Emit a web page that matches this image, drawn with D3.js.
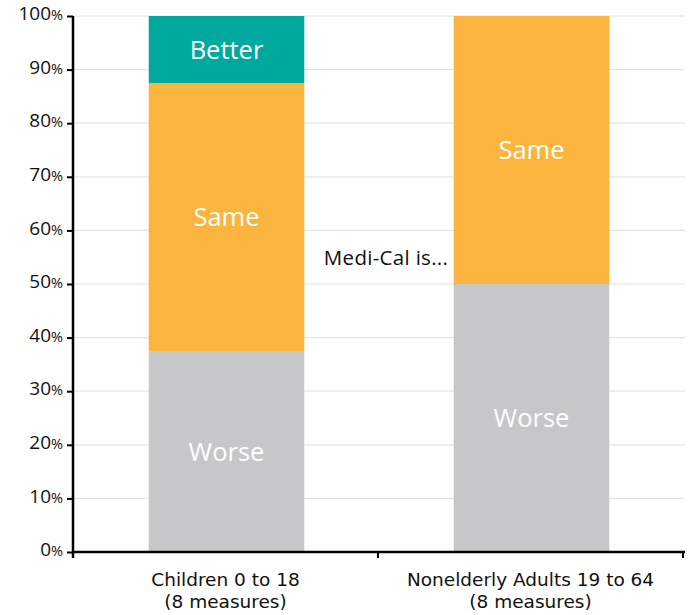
<!DOCTYPE html>
<html>
<head>
<meta charset="utf-8">
<script src="https://cdn.jsdelivr.net/npm/d3@7"></script>
<style>
  body { margin: 0; background: #fff; }
  text { font-family: "Open Sans", Lato, sans-serif; }
  .xlab text { font-family: "DejaVu Sans", "Open Sans", sans-serif; }
</style>
</head>
<body>
<div id="chart"></div>
<script>
var groups = ["Children 0 to 18", "Nonelderly Adults 19 to 64"]
var groupNotes = ["(8 measures)", "(8 measures)"]
var categories = ["Worse", "Same", "Better"]
var worse = [37.5, 50]
var same = [50, 50]
var better = [12.5, 0]
var yTicks = [0, 10, 20, 30, 40, 50, 60, 70, 80, 90, 100]
var colors = {Worse: "#c6c7c9", Same: "#fbb53e", Better: "#00a99d"}

var rows = groups.map(function(g, i) {
  return {group: g, Worse: worse[i], Same: same[i], Better: better[i]}
})

var width = 690, height = 615
var margin = {top: 16, right: 5, bottom: 63, left: 73}

var svg = d3.select("#chart")
  .append("svg")
    .attr("width", width)
    .attr("height", height)

var x = d3.scaleBand()
  .domain(groups)
  .range([margin.left, width - margin.right - 2])
  .paddingInner(0.49)
  .paddingOuter(0.245)

var y = d3.scaleLinear()
  .domain([0, 100])
  .range([height - margin.bottom, margin.top])

// gridlines
svg.append("g")
  .selectAll("line")
  .data(yTicks.slice(1))
  .enter().append("line")
    .attr("x1", margin.left)
    .attr("x2", width - margin.right)
    .attr("y1", function(d) { return y(d) })
    .attr("y2", function(d) { return y(d) })
    .attr("stroke", "#e4e4e4")
    .attr("stroke-width", 1.2)

var stacked = d3.stack().keys(categories)(rows)

// bars
svg.append("g")
  .selectAll("g")
  .data(stacked)
  .enter().append("g")
    .attr("fill", function(d) { return colors[d.key] })
  .selectAll("rect")
  .data(function(d) { return d })
  .enter().append("rect")
    .attr("x", function(d) { return x(d.data.group) + 1 })
    .attr("width", x.bandwidth())
    .attr("y", function(d) { return y(d[1]) })
    .attr("height", function(d) { return y(d[0]) - y(d[1]) })

// labels inside the segments
stacked.forEach(function(s) {
  s.forEach(function(d) {
    if (d[1] - d[0] <= 0) return
    svg.append("text")
      .attr("x", x(d.data.group) + x.bandwidth() / 2 + 1)
      .attr("y", y((d[0] + d[1]) / 2))
      .attr("dy", "0.37em")
      .attr("text-anchor", "middle")
      .attr("fill", "#fff")
      .attr("font-size", 25.5)
      .text(s.key)
  })
})

// y axis
var yAxis = svg.append("g")
  .attr("transform", "translate(" + margin.left + ",0)")
  .call(d3.axisLeft(y).tickValues(yTicks).tickSize(6).tickSizeOuter(0).tickFormat(""))
yAxis.select(".domain").attr("stroke", "#000").attr("stroke-width", 2.5)
  .attr("d", "M0," + (y(0) + 6) + "V" + y(100))
yAxis.selectAll(".tick line").attr("stroke", "#000").attr("stroke-width", 2)

yAxis.selectAll(".tick")
  .append("text")
    .attr("x", -10)
    .attr("dy", "0.36em")
    .attr("text-anchor", "end")
    .attr("fill", "#111")
    .each(function(d) {
      var t = d3.select(this)
      t.append("tspan").attr("font-size", 19).text(d)
      t.append("tspan").attr("font-size", 14.5).text("%")
    })

// x axis
var xAxisG = svg.append("g")
  .attr("transform", "translate(0," + y(0) + ")")
xAxisG.append("line")
  .attr("x1", margin.left)
  .attr("x2", width - margin.right)
  .attr("stroke", "#000")
  .attr("stroke-width", 2.5)
var step = x.step()
xAxisG.selectAll(".sep")
  .data(groups)
  .enter().append("line")
    .attr("x1", function(d) { return x(d) - x.paddingInner() * step / 2 + step })
    .attr("x2", function(d) { return x(d) - x.paddingInner() * step / 2 + step })
    .attr("y1", 0)
    .attr("y2", 6)
    .attr("stroke", "#000")
    .attr("stroke-width", 2)

// category labels, two lines each
var xl = svg.append("g")
  .attr("class", "xlab")
  .selectAll("g")
  .data(groups)
  .enter().append("g")
    .attr("transform", function(d) { return "translate(" + (x(d) + x.bandwidth() / 2) + "," + (y(0) + 34) + ")" })
    .attr("text-anchor", "middle")
    .attr("font-size", 18.5)
    .attr("fill", "#111")
xl.append("text").text(function(d) { return d })
xl.append("text")
  .attr("y", 22)
  .text(function(d, i) { return groupNotes[i] })

// annotation
svg.append("text")
  .attr("x", x(groups[0]) + x.bandwidth() - x.paddingInner() * step / 2 + step / 2 + 5)
  .attr("y", y(54.9))
  .attr("dy", "0.36em")
  .attr("text-anchor", "middle")
  .attr("font-size", 20.5)
  .attr("letter-spacing", 0.3)
  .attr("fill", "#111")
  .text("Medi-Cal is...")
</script>
</body>
</html>
